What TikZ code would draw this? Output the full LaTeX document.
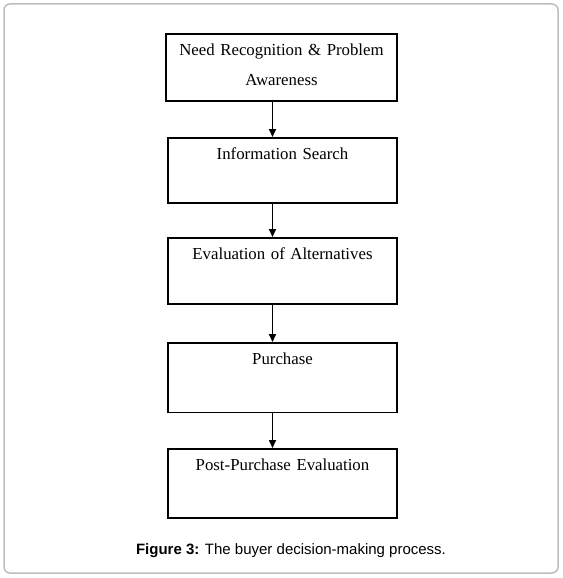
\documentclass[tikz,border=0pt]{standalone}
\usepackage{fontspec}
\setmainfont{Liberation Serif}
\newfontfamily\captionfont{Liberation Sans}
\usetikzlibrary{arrows.meta}
\definecolor{framegray}{RGB}{190,190,190}

\begin{document}
\begin{tikzpicture}[x=1pt,y=-1pt,
		stage/.style = {draw, line width=1.9pt, anchor=north, inner sep=0pt,
			align=center, font=\fontsize{16.8}{29.5}\selectfont, text height=22pt},
		flow/.style = {line width=1.6pt, -{Triangle[length=8pt,width=7pt]}}]
		%\draw[help lines] (0,0) grid (562,578);
		\useasboundingbox (0,0) rectangle (562,578);
		\draw[framegray, line width=1.5pt, rounded corners=6pt] (4,4) rectangle (558,573);

		\coordinate (spine) at (272.5,0);

		\node[stage, text width=231pt, text depth=45pt] (need) at (281.5,33) {Need Recognition \& Problem\\Awareness};
		\node[stage, text width=229pt, text depth=43pt] (info) at (282.5,137) {Information Search};
		\node[stage, text width=229pt, text depth=44pt] (alternatives) at (282.5,237) {Evaluation of Alternatives};
		\node[stage, text width=229pt, text depth=47.5pt] (purchase) at (282.5,342) {Purchase};
		\node[stage, text width=229pt, text depth=47pt] (post) at (282.5,448) {Post-Purchase Evaluation};

		\draw[flow] (need.south -| spine) -- (info.north -| spine);
		\draw[flow] (info.south -| spine) -- (alternatives.north -| spine);
		\draw[flow] (alternatives.south -| spine) -- (purchase.north -| spine);
		\draw[flow] (purchase.south -| spine) -- (post.north -| spine);

		\node[font=\captionfont\fontsize{15}{18}\selectfont, anchor=base] (caption) at (291,554) {\textbf{Figure 3:} The buyer decision-making process.};
\end{tikzpicture}
\end{document}
